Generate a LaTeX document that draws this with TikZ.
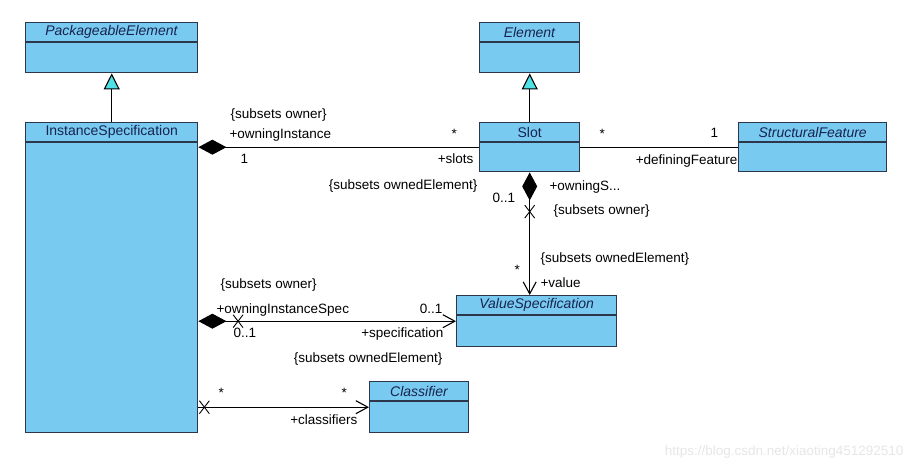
\documentclass[tikz,border=0pt]{standalone}
\usepackage{fontspec}
\setmainfont{Liberation Sans}
\usetikzlibrary{arrows.meta,shapes.misc}
\definecolor{classblue}{RGB}{120,202,240}
\definecolor{classedge}{RGB}{45,55,75}
\definecolor{gentri}{RGB}{80,225,230}
\definecolor{titleink}{RGB}{25,35,80}
\definecolor{markgray}{RGB}{230,230,230}
\begin{document}
\begin{tikzpicture}[x=1pt,y=-1pt,line width=1.1pt,
  cls/.style={draw=classedge,fill=classblue,line width=1.4pt,anchor=north west,inner sep=0pt},
  ttl/.style={font=\fontsize{14}{16}\selectfont,text=titleink,inner sep=0pt},
  lbl/.style={font=\fontsize{13.5}{15}\selectfont,inner sep=0pt,text height=9pt,text depth=0pt,anchor=west},
  gen/.style={-{Triangle[length=16pt,width=16pt,fill=gentri]}},
  owns/.style={{Diamond[length=28pt,width=15pt]}-},
  ownsnav/.style={{Diamond[length=28pt,width=15pt]}-{Straight Barb[length=12pt,width=13pt]}},
  nav/.style={-{Straight Barb[length=12pt,width=13pt]}},
  xmark/.style={cross out,draw,minimum width=9pt,minimum height=12pt,inner sep=0pt,line width=0.9pt}]
\useasboundingbox (0,0) rectangle (914,468);

\node[cls,minimum width=172pt,minimum height=50pt] (pack) at (25,22) {};
\node[cls,minimum width=172pt,minimum height=310pt] (inst) at (25,122) {};
\node[cls,minimum width=100pt,minimum height=50pt] (elem) at (479,22) {};
\node[cls,minimum width=100pt,minimum height=49pt] (slot) at (479,122) {};
\node[cls,minimum width=148pt,minimum height=49pt] (feat) at (738,122) {};
\node[cls,minimum width=160pt,minimum height=51pt] (vspec) at (456,295) {};
\node[cls,minimum width=99pt,minimum height=51pt] (clsf) at (369,381) {};
\foreach \c/\t in {pack/\textit{PackageableElement},inst/InstanceSpecification,elem/\textit{Element},
    slot/Slot,feat/\textit{StructuralFeature},vspec/\textit{ValueSpecification},clsf/\textit{Classifier}} {
  \draw[classedge,line width=1.4pt] ([yshift=-20pt]\c.north west) -- ([yshift=-20pt]\c.north east);
  \node[ttl] (\c-t) at ([yshift=-10pt]\c.north) {\t};
}

\draw[gen] (inst) -- (pack);
\draw[gen] (slot) -- (elem);
\draw[owns] (inst.east |- slot.west) -- (slot.west);
\draw (slot) -- (feat);
\draw[ownsnav] (slot.south) -- node[xmark,pos=0.32] (xval) {} (slot.south |- vspec.north);
\draw[ownsnav] (inst.east |- vspec.west) -- node[xmark,pos=0.154] (xspec) {} (vspec.west);
\draw[nav] (inst.east |- clsf.west) -- node[xmark,pos=0.035] (xclsf) {} (clsf.west);

\node[lbl] (owner1) at (230,114) {\{subsets owner\}};
\node[lbl] (owninst) at (229,134) {+owningInstance};
\node[lbl] (one1) at (240,159) {1};
\node[lbl] (star1) at (451,134) {*};
\node[lbl,anchor=east] (slots) at (474,159) {+slots};
\node[lbl,anchor=east] (owned1) at (478,185) {\{subsets ownedElement\}};
\node[lbl] (star2) at (599,134) {*};
\node[lbl] (one2) at (710,133) {1};
\node[lbl,anchor=east] (deffeat) at (738,160) {+definingFeature};
\node[lbl] (ownslot) at (549,186) {+owningS...};
\node[lbl] (zero1) at (492,198) {0..1};
\node[lbl] (owner2) at (553,210) {\{subsets owner\}};
\node[lbl] (owned2) at (540,258) {\{subsets ownedElement\}};
\node[lbl] (star3) at (514,270) {*};
\node[lbl] (value) at (540,283) {+value};
\node[lbl] (owner3) at (220,284) {\{subsets owner\}};
\node[lbl] (owninspec) at (216,309) {+owningInstanceSpec};
\node[lbl] (zero2) at (233,333) {0..1};
\node[lbl,anchor=east] (zero3) at (443,309) {0..1};
\node[lbl,anchor=east] (spec) at (444,333) {+specification};
\node[lbl,anchor=east] (owned3) at (443,358) {\{subsets ownedElement\}};
\node[lbl] (star4) at (218,393) {*};
\node[lbl] (star5) at (341,393) {*};
\node[lbl,anchor=east] (classifiers) at (358,420) {+classifiers};
\node[lbl,anchor=east,text=markgray] (mark) at (904,451) {https://blog.csdn.net/xiaoting451292510};
\end{tikzpicture}
\end{document}
